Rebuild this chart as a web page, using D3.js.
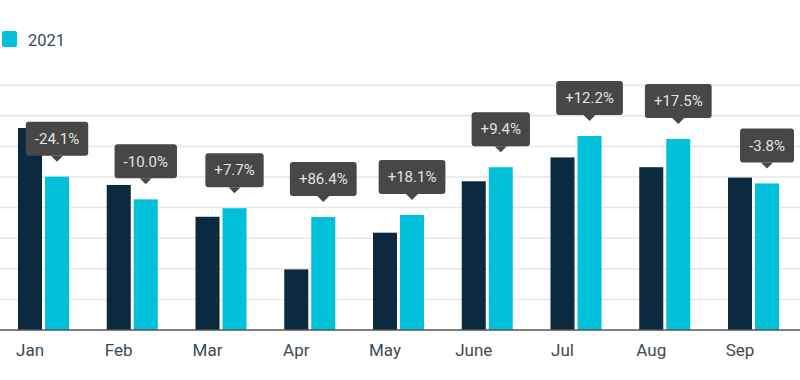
<!DOCTYPE html>
<html>
<head>
<meta charset="utf-8">
<script src="https://cdn.jsdelivr.net/npm/d3@7"></script>
<style>
  html, body { margin: 0; padding: 0; background: #fff; }
  svg { display: block; font-family: Roboto, "Noto Sans", sans-serif; }
</style>
</head>
<body>
<svg id="chart" width="800" height="380"></svg>
<script>
const months = ["Jan", "Feb", "Mar", "Apr", "May", "June", "Jul", "Aug", "Sep"];
const series = ["2020", "2021"];
const values2020 = [6.60, 4.74, 3.70, 1.98, 3.18, 4.86, 5.64, 5.32, 4.98];
const values2021 = [5.01, 4.27, 3.98, 3.69, 3.76, 5.32, 6.34, 6.24, 4.79];
const changeLabels = ["-24.1%", "-10.0%", "+7.7%", "+86.4%", "+18.1%", "+9.4%", "+12.2%", "+17.5%", "-3.8%"];
const gridTicks = [1, 2, 3, 4, 5, 6, 7, 8];
const colors = { "2020": "#0b2a3f", "2021": "#00c0da" };

const svg = d3.select("#chart");
const baseY = 330;

const y = d3.scaleLinear().domain([0, 8]).range([baseY, baseY - 8 * 30.6]);

// band scale: step 88.75px, first group starting at x = 18
const step = 88.75;
const x = d3.scaleBand()
  .domain(months)
  .paddingInner(0.425)
  .paddingOuter(0.2125)
  .range([18 - 0.2125 * step, 18 - 0.2125 * step + 9 * step]);

const xs = d3.scaleBand().domain(series).range([0, x.bandwidth()]).paddingInner(0.111);

// gridlines
svg.append("g").selectAll("line")
  .data(gridTicks)
  .join("line")
  .attr("x1", 0).attr("x2", 800)
  .attr("y1", d => y(d)).attr("y2", d => y(d))
  .attr("stroke", "#e6e6e6").attr("stroke-width", 1.5);

// bars
const groups = svg.append("g").selectAll("g")
  .data(months)
  .join("g")
  .attr("transform", d => `translate(${x(d)},0)`);

groups.append("rect")
  .attr("x", xs("2020"))
  .attr("width", xs.bandwidth())
  .attr("y", (d, i) => y(values2020[i]))
  .attr("height", (d, i) => baseY - y(values2020[i]))
  .attr("fill", colors["2020"]);

groups.append("rect")
  .attr("x", xs("2021"))
  .attr("width", xs.bandwidth())
  .attr("y", (d, i) => y(values2021[i]))
  .attr("height", (d, i) => baseY - y(values2021[i]))
  .attr("fill", colors["2021"]);

// baseline
svg.append("line")
  .attr("x1", 0).attr("x2", 800)
  .attr("y1", baseY).attr("y2", baseY)
  .attr("stroke", "#555").attr("stroke-width", 1.5);

// x labels (centered under first series bar)
svg.append("g").selectAll("text")
  .data(months)
  .join("text")
  .attr("x", d => x(d) + xs("2020") + xs.bandwidth() / 2)
  .attr("y", 356)
  .attr("text-anchor", "middle")
  .attr("font-size", 17)
  .attr("fill", "#3b4a55")
  .text(d => d);

// tooltips
const tips = svg.append("g").selectAll("g")
  .data(months)
  .join("g")
  .attr("transform", (d, i) => `translate(${x(d) + xs("2021") + xs.bandwidth() / 2},${y(values2021[i])})`);

tips.each(function(d, i) {
  const g = d3.select(this);
  const t = g.append("text")
    .attr("x", 0)
    .attr("y", -38)
    .attr("dy", "0.35em")
    .attr("text-anchor", "middle")
    .attr("font-size", 15)
    .attr("fill", "#e2e2e2")
    .text(changeLabels[i]);
  const w = t.node().getComputedTextLength() + 18;
  g.insert("path", "text")
    .attr("d", "M-6,-21 L0,-15 L6,-21 Z")
    .attr("fill", "#474747");
  g.insert("rect", "text")
    .attr("x", -w / 2)
    .attr("y", -55)
    .attr("width", w)
    .attr("height", 34)
    .attr("rx", 3)
    .attr("fill", "#474747");
});

// legend
svg.append("rect")
  .attr("x", 2).attr("y", 31).attr("width", 15).attr("height", 16).attr("rx", 2)
  .attr("fill", colors["2021"]);
svg.append("text")
  .attr("x", 28).attr("y", 46)
  .attr("font-size", 16.5)
  .attr("fill", "#3b4a55")
  .text(series[1]);
</script>
</body>
</html>
